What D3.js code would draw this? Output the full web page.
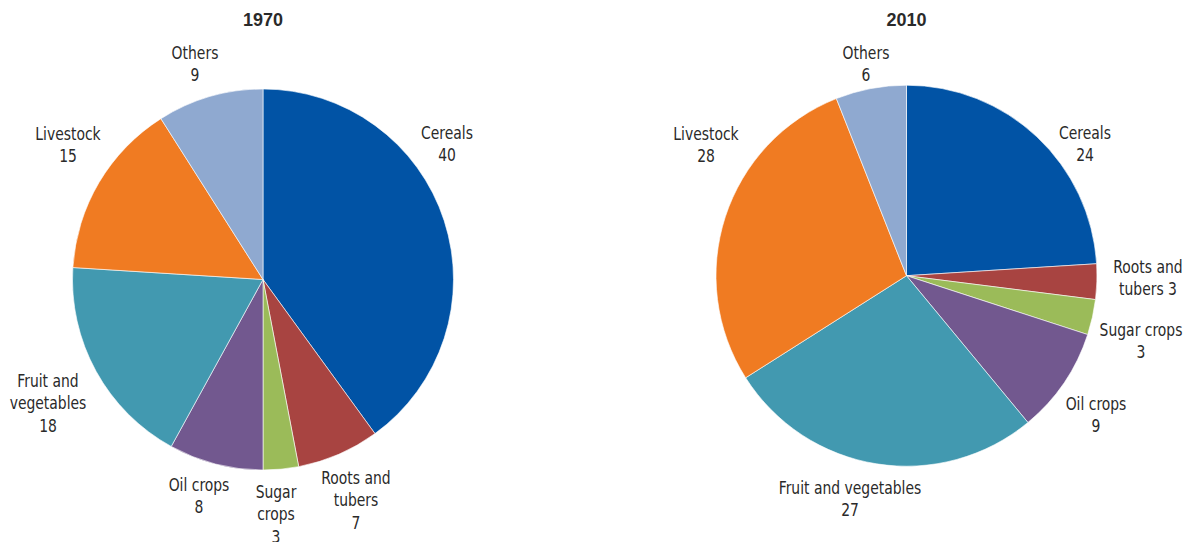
<!DOCTYPE html>
<html>
<head>
<meta charset="utf-8">
<script src="https://cdn.jsdelivr.net/npm/d3@7/dist/d3.min.js"></script>
<style>
  html, body { margin: 0; padding: 0; background: #fff; }
  svg { display: block; }
  text { font-family: "Liberation Sans Narrow", "DejaVu Sans Condensed", "Arial Narrow", sans-serif; fill: #2a2a2a; }
</style>
</head>
<body>
<svg id="chart" width="1185" height="542"></svg>
<script>
// Share of crop categories (%), 1970 vs 2010
const categories = ["Cereals", "Roots and tubers", "Sugar crops", "Oil crops", "Fruit and vegetables", "Livestock", "Others"];
const values1970 = [40, 7, 3, 8, 18, 15, 9];
const values2010 = [24, 3, 3, 9, 27, 28, 6];
const years = ["1970", "2010"];
const colors = ["#0153a5", "#a84441", "#9bbb59", "#72588f", "#4299b0", "#f07b22", "#8fa9d0"];

// Label text lines per pie (value appended where it belongs)
const labelLines1970 = [
  ["Cereals", "40"],
  ["Roots and", "tubers", "7"],
  ["Sugar", "crops", "3"],
  ["Oil crops", "8"],
  ["Fruit and", "vegetables", "18"],
  ["Livestock", "15"],
  ["Others", "9"]
];
const labelLines2010 = [
  ["Cereals", "24"],
  ["Roots and", "tubers 3"],
  ["Sugar crops", "3"],
  ["Oil crops", "9"],
  ["Fruit and vegetables", "27"],
  ["Livestock", "28"],
  ["Others", "6"]
];

// Layout
const pies = [
  { cx: 263, cy: 279.5, r: 190.5, titleY: 20, values: values1970, lines: labelLines1970,
    labelPos: [[447, 139], [356, 484], [276, 498], [199, 491], [48, 387], [68, 140], [195, 59]] },
  { cx: 906.5, cy: 275.7, r: 190.5, titleY: 20, values: values2010, lines: labelLines2010,
    labelPos: [[1085, 139], [1148, 273], [1141, 336], [1096, 410], [850, 494], [706, 140], [866, 59]] }
];
const lineH = 22.5;
const squeeze = 0.91;   // horizontal condensing of label text

const svg = d3.select("#chart");
const color = d3.scaleOrdinal().domain(categories).range(colors);
const pie = d3.pie().sort(null).value(d => d.value);

pies.forEach((p, i) => {
  const data = categories.map((c, k) => ({ category: c, value: p.values[k], lines: p.lines[k], pos: p.labelPos[k] }));
  const arc = d3.arc().innerRadius(0).outerRadius(p.r);
  const g = svg.append("g").attr("transform", `translate(${p.cx},${p.cy})`);

  g.selectAll("path")
    .data(pie(data))
    .join("path")
    .attr("d", arc)
    .attr("fill", d => color(d.data.category))
    .attr("stroke", "#ffffff")
    .attr("stroke-width", 0.6);

  svg.append("text")
    .attr("x", p.cx)
    .attr("y", p.titleY)
    .attr("text-anchor", "middle")
    .attr("dominant-baseline", "central")
    .style("font-family", "'Liberation Sans', Arial, sans-serif")
    .style("font-weight", "bold")
    .style("font-size", "18px")
    .text(years[i]);

  const labels = svg.append("g").selectAll("text")
    .data(data)
    .join("text")
    .attr("text-anchor", "middle")
    .attr("transform", d => `translate(${d.pos[0]},${d.pos[1]}) scale(${squeeze},1)`)
    .style("font-size", "17px");

  labels.each(function(d) {
    const t = d3.select(this);
    d.lines.forEach((ln, j) => {
      t.append("tspan")
        .attr("x", 0)
        .attr("y", -6 + j * lineH)
        .attr("dominant-baseline", "central")
        .text(ln);
    });
  });
});
</script>
</body>
</html>
